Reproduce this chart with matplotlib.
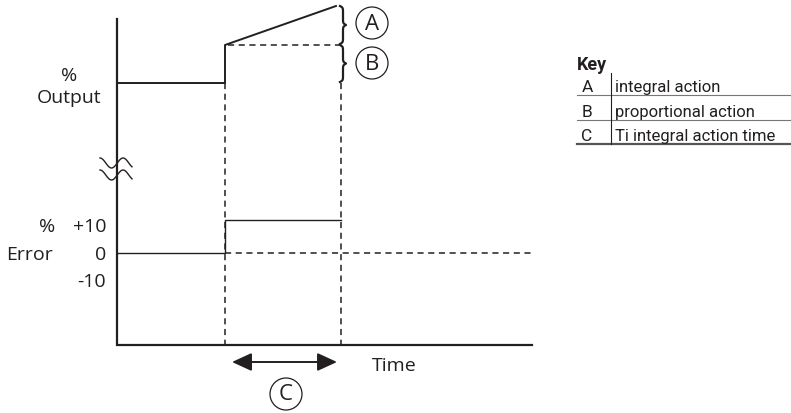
import matplotlib
matplotlib.use('Agg')
import matplotlib.pyplot as plt
from matplotlib.patches import Circle
import numpy as np

# ----------------------------------------------------------------------------------------------------------------------
# schematic positions (diagram units = pixels, y grows downwards)
axis_x, axis_top, axis_bottom, axis_right = 117, 19, 345, 532
t_step, t_ti = 225, 341

output_x = [117, 225, 225, 336]
output_y = [83, 83, 45, 6]
prop_level = 45

error_x = [117, 225, 225, 341]
error_y = [253, 253, 220, 220]
error_zero = 253

error_ticks = ['+10', '0', '-10']
error_tick_y = [232, 260, 287]

key_letters = ['A', 'B', 'C']
key_texts = ['integral action', 'proportional action', 'Ti integral action time']
key_row_base = [92, 117, 141]
key_row_lines = [95, 120, 144]

main_font = ['Open Sans', 'DejaVu Sans']
key_font = ['Roboto', 'Liberation Sans', 'DejaVu Sans']


def brace(y0, y1, x0, w, beta=1.2):
    half = np.linspace(0, (y1 - y0) / 2, 60)
    b = 1 / (1 + np.exp(-beta * (half - half[0]))) + 1 / (1 + np.exp(-beta * (half - half[-1])))
    b = np.concatenate((b, b[-2::-1])) - 0.5
    y = np.linspace(y0, y1, len(b))
    return x0 + w * b, y


fig = plt.figure(figsize=(7.91, 4.13), dpi=100)
ax = fig.add_axes([0, 0, 1, 1])
ax.set_xlim(0, 791)
ax.set_ylim(413, 0)
ax.axis('off')

# axes
ax.plot([axis_x, axis_x, axis_right], [axis_top, axis_bottom, axis_bottom], color='#231f20', lw=1.6,
        solid_joinstyle='miter')

# axis break
u = np.linspace(0, 1, 80)
for c in [163, 175]:
    ax.plot(100 + 32 * u, c - 5 * np.cos(2 * np.pi * u / 0.72), color='#231f20', lw=1.0)

# output curve
ax.plot(output_x, output_y, color='#231f20', lw=1.4)
ax.plot([t_step + 3, t_ti - 2], [prop_level, prop_level], color='#231f20', lw=1.1, ls=(0, (4, 3)))

# error curve
ax.plot(error_x, error_y, color='#231f20', lw=1.0)
ax.plot([t_step, axis_right], [error_zero, error_zero], color='#231f20', lw=1.1, ls=(0, (4, 3)))

# dashed time markers
for t in [t_step, t_ti]:
    ax.plot([t, t], [output_y[0], axis_bottom], color='#231f20', lw=1.1, ls=(0, (4, 3)))

# braces
for y0, y1 in [(6, 44), (45, 82)]:
    bx, by = brace(y0, y1, 340, 6)
    ax.plot(bx, by, color='#231f20', lw=1.6)

# circled letters
for (cx, cy), letter in zip([(372, 23), (372, 63), (286, 394)], key_letters):
    ax.add_patch(Circle((cx, cy), 16, fill=False, ec='#231f20', lw=0.9))
    ax.text(cx, cy + 1, letter, ha='center', va='center', fontsize=16, family=main_font, color='#231f20')

# Ti arrow
ax.annotate('', xy=(232, 362), xytext=(337, 362),
            arrowprops=dict(arrowstyle='<|-|>,head_length=1.2,head_width=0.55', lw=1.4, color='#231f20',
                            shrinkA=0, shrinkB=0))

# labels
ax.text(69, 81, '%', ha='center', va='baseline', fontsize=14, family=main_font, color='#231f20')
ax.text(69, 103, 'Output', ha='center', va='baseline', fontsize=14, family=main_font, color='#231f20')
ax.text(47, 232, '%', ha='center', va='baseline', fontsize=14, family=main_font, color='#231f20')
ax.text(30, 260, 'Error', ha='center', va='baseline', fontsize=14, family=main_font, color='#231f20')
for lab, y in zip(error_ticks, error_tick_y):
    ax.text(106, y, lab, ha='right', va='baseline', fontsize=14, family=main_font, color='#231f20')
ax.text(372, 371, 'Time', ha='left', va='baseline', fontsize=14, family=main_font, color='#231f20')

# key table
ax.text(577, 70, 'Key', ha='left', va='baseline', fontsize=13, fontweight='bold', family=key_font,
        color='#231f20')
for letter, text, yb in zip(key_letters, key_texts, key_row_base):
    ax.text(587, yb, letter, ha='center', va='baseline', fontsize=12.5, family=key_font, color='#231f20')
    ax.text(615, yb, text, ha='left', va='baseline', fontsize=12, family=key_font, color='#231f20')
for i, y in enumerate(key_row_lines):
    ax.plot([577, 791], [y, y], color='#555555' if i == 2 else '#777777', lw=1.6 if i == 2 else 0.8)
ax.plot([611, 611], [73, key_row_lines[-1]], color='#231f20', lw=0.8)

fig.savefig('out.png', dpi=100)
